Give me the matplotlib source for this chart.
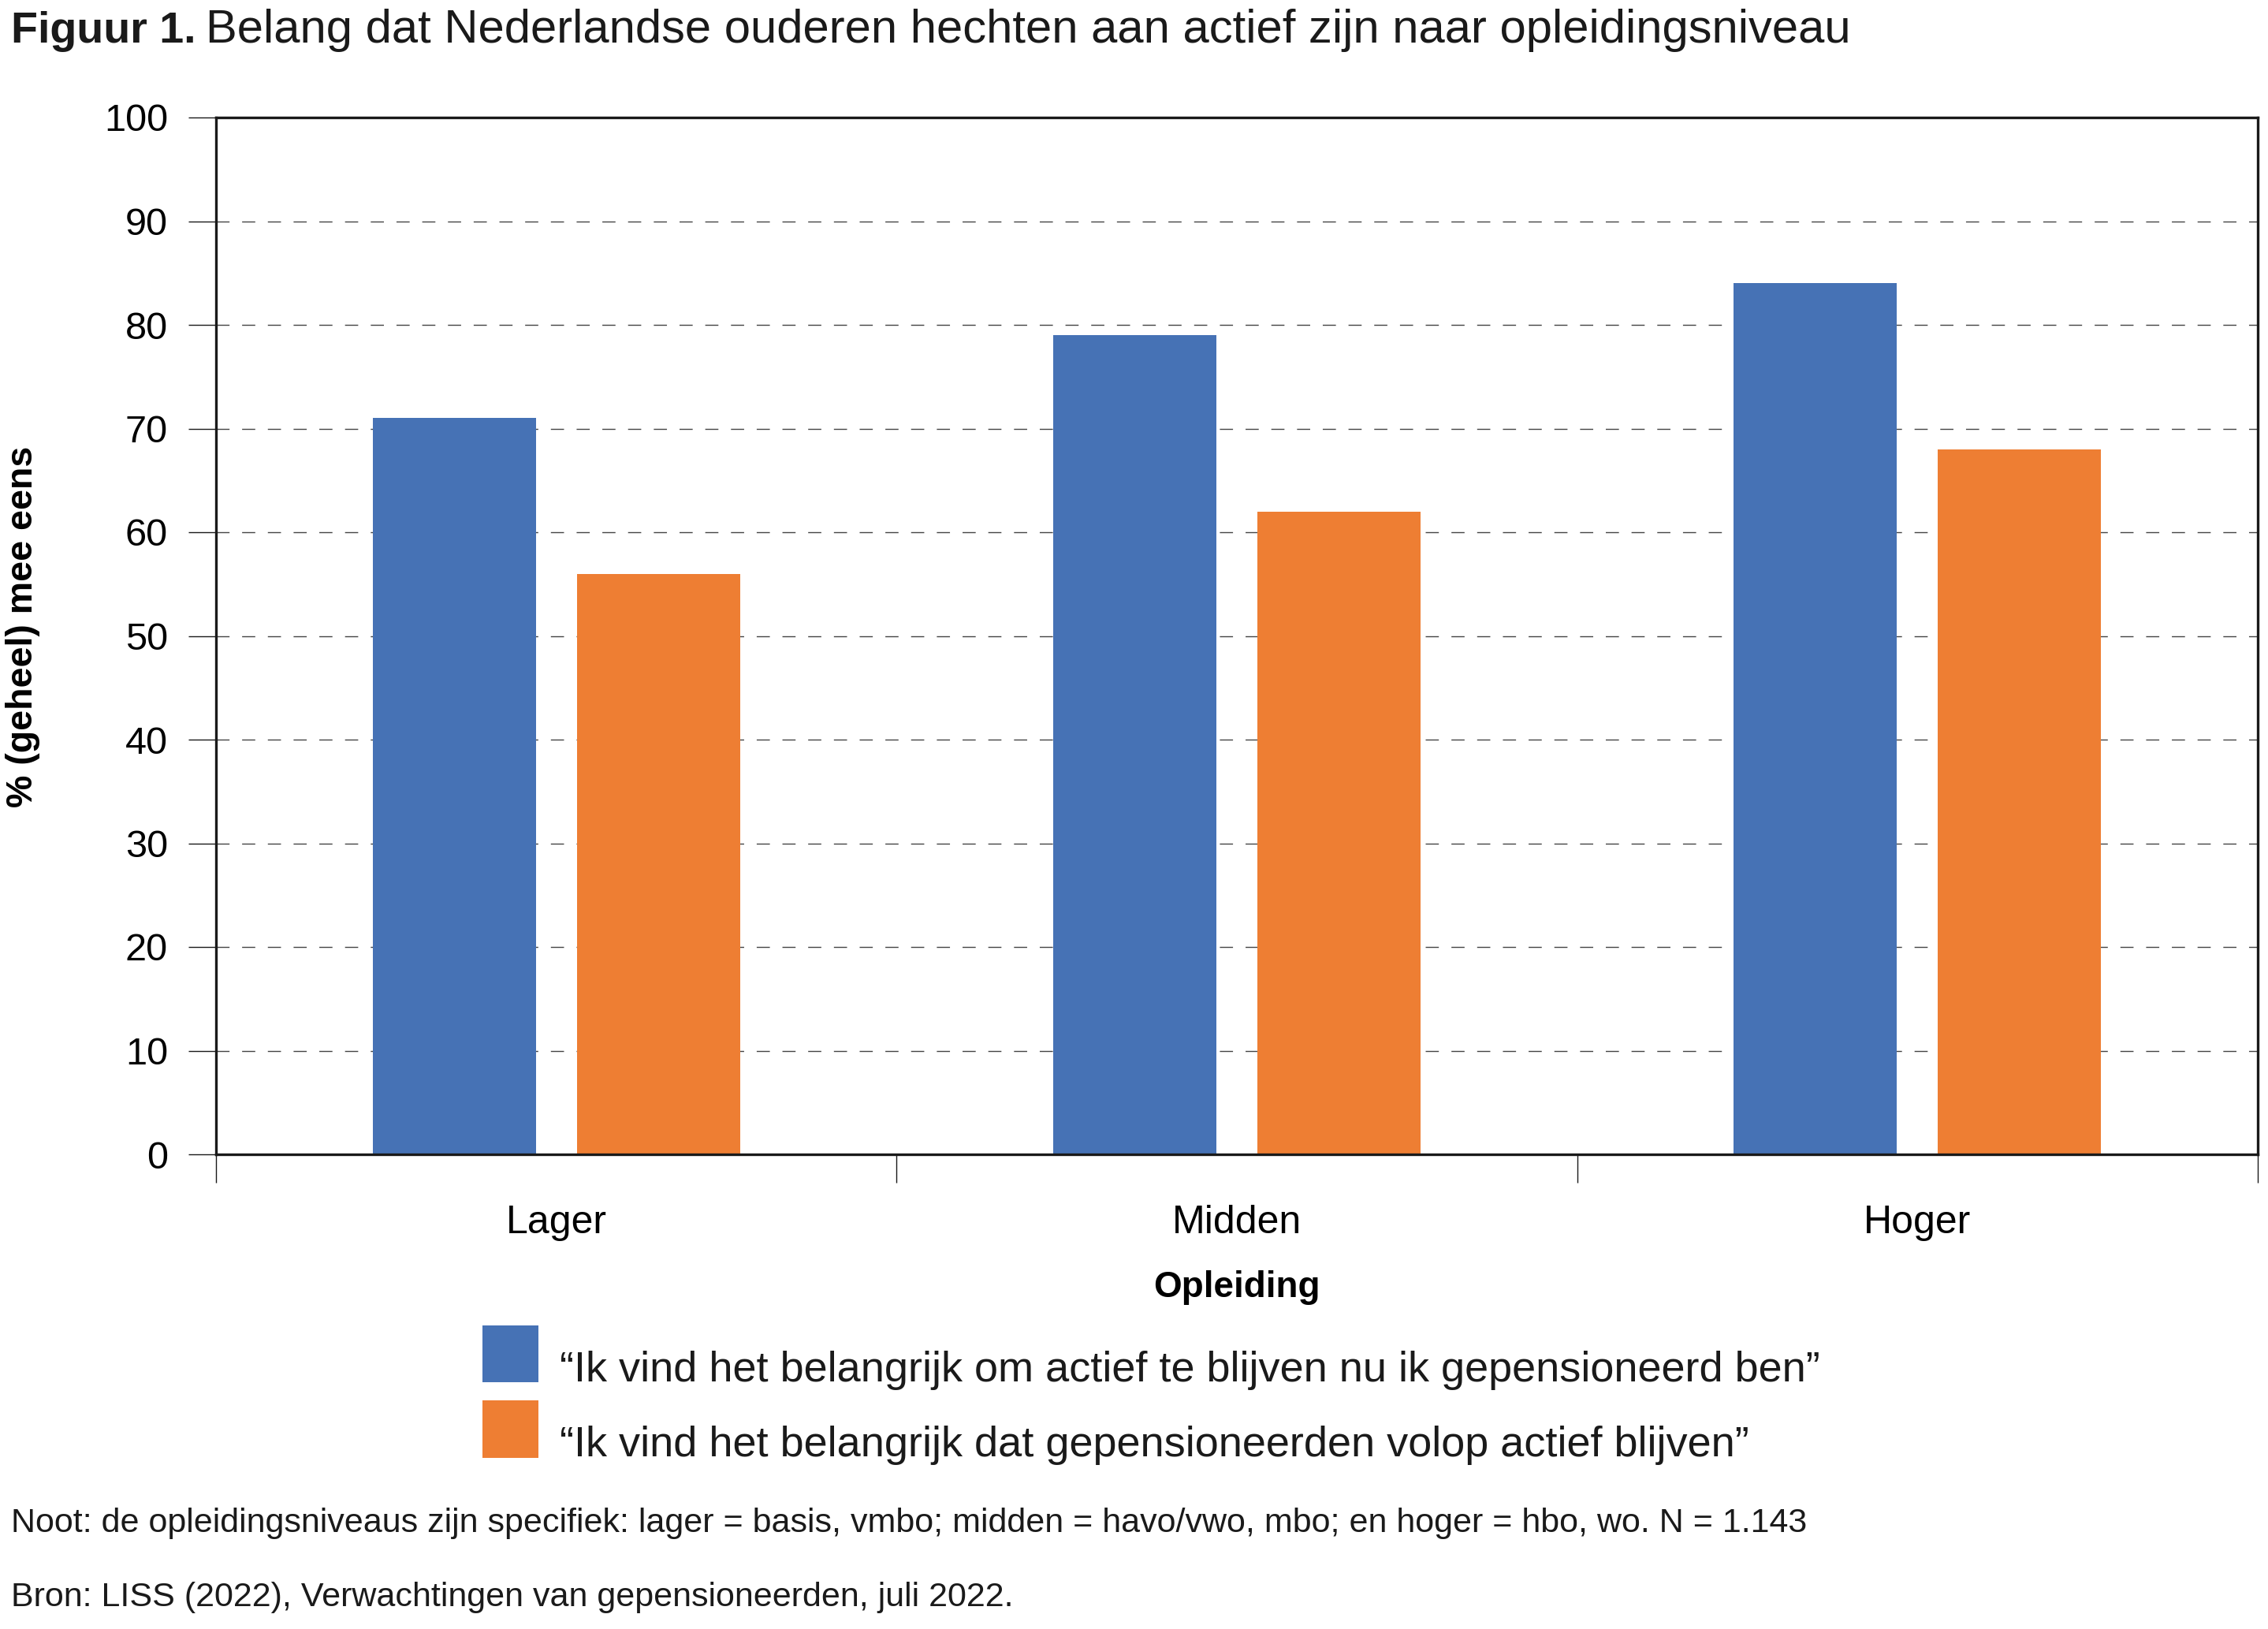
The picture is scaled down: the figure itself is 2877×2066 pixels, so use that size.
import numpy as np
import matplotlib
matplotlib.use("Agg")
import matplotlib.pyplot as plt
import matplotlib.transforms as mtransforms

plt.rcParams['font.family'] = ['Liberation Sans', 'DejaVu Sans']
plt.rcParams['text.color'] = '#1a1a1a'

categories = ["Lager", "Midden", "Hoger"]
actief_blijven_zelf = [71, 79, 84]
actief_blijven_algemeen = [56, 62, 68]
series_labels = [
    "\u201cIk vind het belangrijk om actief te blijven nu ik gepensioneerd ben\u201d",
    "\u201cIk vind het belangrijk dat gepensioneerden volop actief blijven\u201d",
]
yticks = [0, 10, 20, 30, 40, 50, 60, 70, 80, 90, 100]

blue = "#4672B5"
orange = "#EE7E33"
ink = "#1a1a1a"

W, H = 2877, 2066
fig = plt.figure(figsize=(W / 100, H / 100), dpi=100)
ax = fig.add_axes([274 / W, 1 - 1464 / H, 2590 / W, 1315 / H])

x = np.arange(len(categories))
bw = 0.24
b1 = ax.bar(x - 0.15, actief_blijven_zelf, bw, color=blue, zorder=3, label=series_labels[0])
b2 = ax.bar(x + 0.15, actief_blijven_algemeen, bw, color=orange, zorder=3, label=series_labels[1])

ax.set_xlim(-0.5, len(categories) - 0.5)
ax.set_ylim(0, 100)
ax.set_yticks(yticks)
ax.set_yticklabels([str(t) for t in yticks], fontsize=35)

# grid lines only between the spines
for t in yticks[1:-1]:
    ax.axhline(t, color="#444444", lw=1.0, dashes=(12, 11.5), zorder=1)

# category boundaries as ticks, labels on the centres
ax.set_xticks(np.arange(-0.5, len(categories), 1.0))
ax.set_xticklabels([])
ax.set_xticks(x, minor=True)
ax.set_xticklabels(categories, minor=True, fontsize=36)
ax.tick_params(axis="x", which="major", length=26, width=1.0, color=ink)
ax.tick_params(axis="x", which="minor", length=0, pad=46)
ax.tick_params(axis="y", length=25, width=1.0, color=ink, pad=19)

for s in ax.spines.values():
    s.set_linewidth(2.4)
    s.set_color(ink)
    s.set_zorder(4)

ax.set_ylabel("% (geheel) mee eens", fontsize=33.5, fontweight="bold")
ax.yaxis.set_label_coords((51 - 274) / 2590, 0.509)
ax.set_xlabel("Opleiding", fontsize=33, fontweight="bold", labelpad=27)

# legend below the axes
leg = fig.legend(
    handles=[b1, b2], loc="upper left",
    bbox_to_anchor=(612 / W, 1 - 1681 / H), bbox_transform=fig.transFigure,
    frameon=False, fontsize=39, handlelength=1.31, handleheight=1.68,
    handletextpad=0.5, labelspacing=0.42, borderpad=0, borderaxespad=0,
)
# the quotes sit a little lower than the colour boxes
for t in leg.get_texts():
    t.set_transform(t.get_transform() + mtransforms.ScaledTranslation(0, -0.17, fig.dpi_scale_trans))

# title: bold part followed by regular part
fig.canvas.draw()
r = fig.canvas.get_renderer()
t1 = fig.text(14 / W, 1 - 54 / H, "Figuur 1.", fontsize=40, fontweight="bold", va="baseline")
bb = t1.get_window_extent(renderer=r)
fig.text(bb.x1 / W + 12 / W, 1 - 54 / H,
         "Belang dat Nederlandse ouderen hechten aan actief zijn naar opleidingsniveau",
         fontsize=43, va="baseline")

fig.text(14 / W, 1 - 1932 / H,
         "Noot: de opleidingsniveaus zijn specifiek: lager = basis, vmbo; midden = havo/vwo, mbo; en hoger = hbo, wo. N = 1.143",
         fontsize=31, va="center")
fig.text(14 / W, 1 - 2026 / H,
         "Bron: LISS (2022), Verwachtingen van gepensioneerden, juli 2022.",
         fontsize=31, va="center")

fig.savefig("out.png", dpi=100)
